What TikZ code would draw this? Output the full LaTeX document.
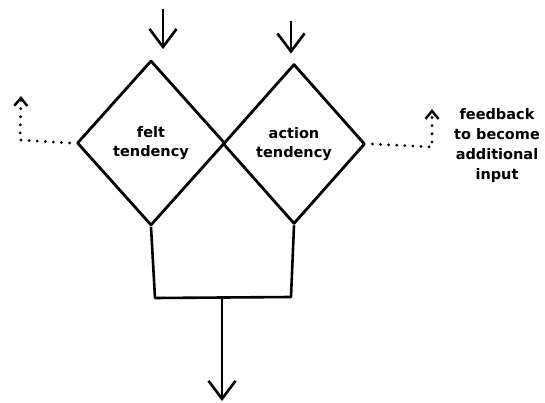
\documentclass[tikz,border=0pt]{standalone}
\usepackage{fontspec}
\setmainfont{DejaVu Sans}
\usepackage{tikz}
\usetikzlibrary{shapes.geometric,arrows.meta}

\begin{document}
\begin{tikzpicture}[x=1pt,y=1pt,
  tendency/.style={draw=drawColor,diamond,line width=2.8pt,line join=round,
    inner sep=0pt,font=\fontsize{14.5}{19}\selectfont\bfseries,align=center,text=drawColor},
  flow/.style={draw=drawColor,line width=2.6pt,line join=round},
  inarrow/.style={flow,-{Straight Barb[length=18pt,width=27pt,line width=2.6pt]}},
  feedback/.style={draw=drawColor,line width=3pt,line cap=round,
    dash pattern=on 0.1pt off 8pt,-{Straight Barb[length=8pt,width=13pt,line width=2.4pt]}}]
\definecolor{fillColor}{RGB}{255,255,255}
\definecolor{drawColor}{RGB}{0,0,0}
\path[use as bounding box,fill=fillColor] (0,0) rectangle (545,402);

\node[tendency,minimum width=148pt,minimum height=165pt] (felt) at (151,259) {felt\\tendency};
\node[tendency,minimum width=142pt,minimum height=160pt] (action) at (294,258) {action\\tendency};

\coordinate (feltIn) at (163,393);
\coordinate (actionIn) at (291,381);
\path[inarrow] (feltIn) -- ([xshift=12pt,yshift=10pt]felt.north);
\path[inarrow] (actionIn) -- ([xshift=-3pt,yshift=9pt]action.north);

\coordinate (feltLow) at (155,104);
\coordinate (actionLow) at (291,105);
\coordinate (joint) at (222,104);
\coordinate (out) at (222,1);
\path[flow] (felt.south) -- (feltLow) -- (actionLow) -- (action.south);
\path[inarrow] (joint) -- (out);

\coordinate (feltCorner) at (20,262);
\coordinate (feltBack) at (21,306);
\coordinate (actionCorner) at (432,255);
\coordinate (actionBack) at (432,293);
\path[feedback] ([xshift=-6pt]felt.west) -- (feltCorner) -- (feltBack);
\path[feedback] ([xshift=6pt]action.east) -- (actionCorner) -- (actionBack);

\node[text=drawColor,align=center,font=\fontsize{14.5}{20}\selectfont\bfseries] (note) at (497,257)
  {feedback\\to become\\additional\\input};
\end{tikzpicture}
\end{document}
